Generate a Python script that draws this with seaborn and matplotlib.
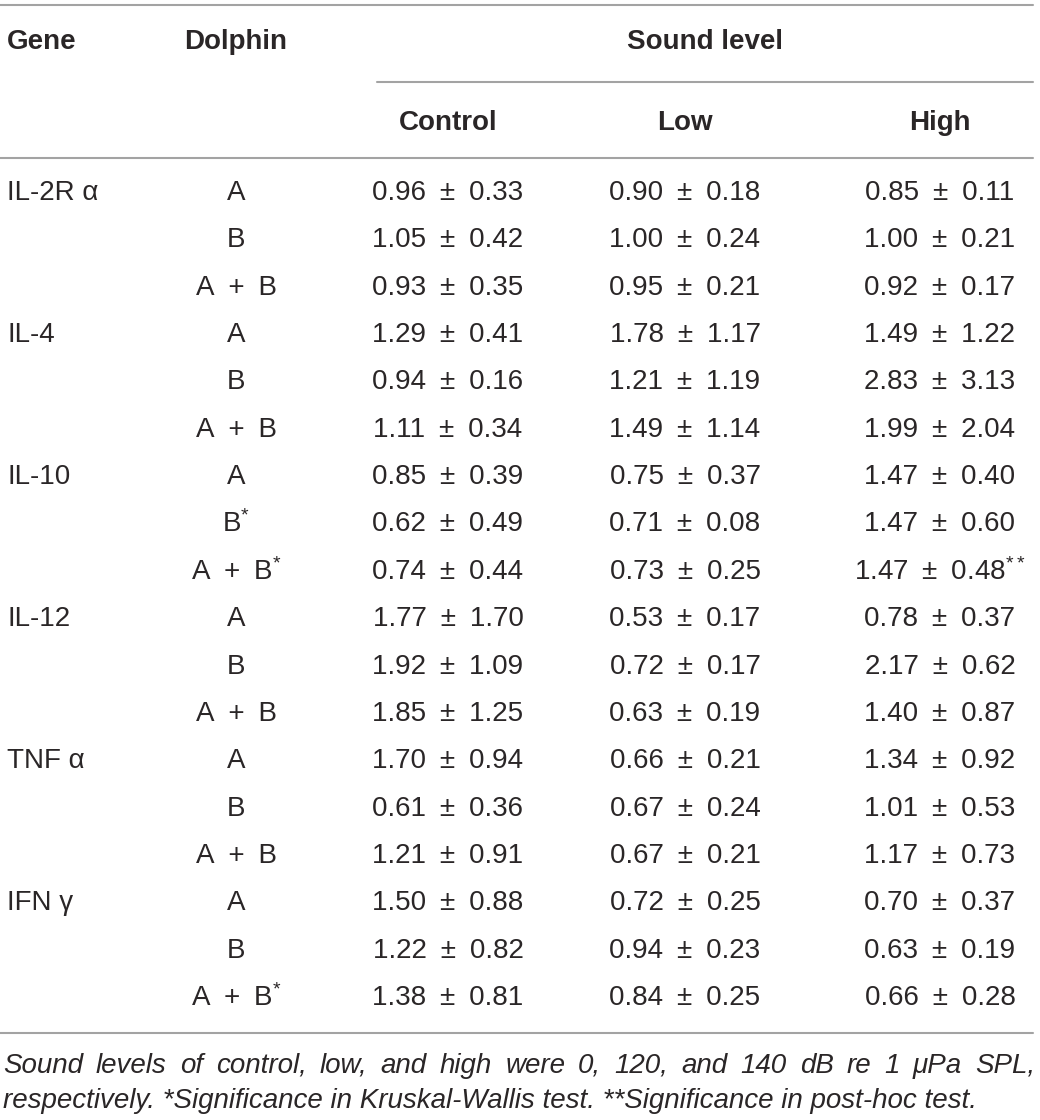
import pandas as pd
import seaborn as sns
import matplotlib.pyplot as plt

# table content
genes = ["IL-2R α", "IL-4", "IL-10", "IL-12", "TNF α", "IFN γ"]
dolphin = ["A", "B", "A + B"] * 6
dolphin_mark = ["", "", "",
                "", "", "",
                "", "*", "*",
                "", "", "",
                "", "", "",
                "", "", "*"]
control_mean = [0.96, 1.05, 0.93, 1.29, 0.94, 1.11, 0.85, 0.62, 0.74,
                1.77, 1.92, 1.85, 1.70, 0.61, 1.21, 1.50, 1.22, 1.38]
control_sd = [0.33, 0.42, 0.35, 0.41, 0.16, 0.34, 0.39, 0.49, 0.44,
              1.70, 1.09, 1.25, 0.94, 0.36, 0.91, 0.88, 0.82, 0.81]
low_mean = [0.90, 1.00, 0.95, 1.78, 1.21, 1.49, 0.75, 0.71, 0.73,
            0.53, 0.72, 0.63, 0.66, 0.67, 0.67, 0.72, 0.94, 0.84]
low_sd = [0.18, 0.24, 0.21, 1.17, 1.19, 1.14, 0.37, 0.08, 0.25,
          0.17, 0.17, 0.19, 0.21, 0.24, 0.21, 0.25, 0.23, 0.25]
high_mean = [0.85, 1.00, 0.92, 1.49, 2.83, 1.99, 1.47, 1.47, 1.47,
             0.78, 2.17, 1.40, 1.34, 1.01, 1.17, 0.70, 0.63, 0.66]
high_sd = [0.11, 0.21, 0.17, 1.22, 3.13, 2.04, 0.40, 0.60, 0.48,
           0.37, 0.62, 0.87, 0.92, 0.53, 0.73, 0.37, 0.19, 0.28]
high_mark = [""] * 8 + ["**"] + [""] * 9
levels = ["Control", "Low", "High"]
footnote = ["Sound levels of control, low, and high were 0, 120, and 140 dB re 1 μPa SPL,",
            "respectively. *Significance in Kruskal-Wallis test. **Significance in post-hoc test."]

df = pd.DataFrame({
    "gene": [g if i % 3 == 0 else "" for i, g in enumerate(sum([[g] * 3 for g in genes], []))],
    "dolphin": dolphin, "dmark": dolphin_mark,
    "c_m": control_mean, "c_s": control_sd,
    "l_m": low_mean, "l_s": low_sd,
    "h_m": high_mean, "h_s": high_sd, "hmark": high_mark,
})

sns.set_theme(style="white")
plt.rcParams["font.family"] = ["Liberation Sans", "DejaVu Sans"]
plt.rcParams["mathtext.fontset"] = "custom"
plt.rcParams["mathtext.rm"] = "Liberation Sans"
plt.rcParams["mathtext.it"] = "Liberation Sans:italic"
plt.rcParams["mathtext.default"] = "regular"

ink = "#2a2627"
rule = "#a3a3a3"
fs = 20
sp = "\u2002"  # wider gap around the ± and + signs

fig = plt.figure(figsize=(10.4, 11.2), dpi=100)
ax = fig.add_axes([0, 0, 1, 1])
ax.set_xlim(0, 1040)
ax.set_ylim(1120, 0)
ax.axis("off")

gene_x, dol_x = 7, 236
level_x = [448, 685, 940]
row0, row_h = 193, 47.35


def sup(mark):
    return "$^{" + mark + "}$" if mark else ""


# header
ax.text(gene_x, 42, "Gene", fontsize=fs, fontweight="bold", color=ink, va="center")
ax.text(dol_x, 42, "Dolphin", fontsize=fs, fontweight="bold", color=ink, va="center", ha="center")
ax.text(705, 42, "Sound level", fontsize=fs, fontweight="bold", color=ink, va="center", ha="center")
for x, lab in zip(level_x, levels):
    ax.text(x, 123, lab, fontsize=fs, fontweight="bold", color=ink, va="center", ha="center")

# rules
ax.plot([0, 1033], [5, 5], color=rule, lw=1.5)
ax.plot([377, 1033], [82, 82], color=rule, lw=1.5)
ax.plot([0, 1033], [158, 158], color=rule, lw=1.5)
ax.plot([0, 1033], [1033, 1033], color=rule, lw=1.5)

# body rows
for i, r in df.iterrows():
    y = row0 + i * row_h
    if r["gene"]:
        ax.text(gene_x, y, r["gene"], fontsize=fs, color=ink, va="center")
    ax.text(dol_x, y, r["dolphin"].replace(" ", sp) + sup(r["dmark"]), fontsize=fs,
            color=ink, va="center", ha="center")
    vals = [(r["c_m"], r["c_s"], ""), (r["l_m"], r["l_s"], ""), (r["h_m"], r["h_s"], r["hmark"])]
    for x, (m, s, mk) in zip(level_x, vals):
        ax.text(x, y, f"{m:.2f}{sp}±{sp}{s:.2f}" + sup(mk), fontsize=fs, color=ink,
                va="center", ha="center")

# footnote: first line justified to full width, last line left aligned
renderer = fig.canvas.get_renderer()
fn_kw = dict(fontsize=20, style="italic", color=ink, va="center")
words = footnote[0].split(" ")
arts = [ax.text(0, 1066, w, **fn_kw) for w in words]
widths = [a.get_window_extent(renderer).width for a in arts]
gap = (1035 - 3 - sum(widths)) / (len(words) - 1)
x = 3
for a, w in zip(arts, widths):
    a.set_x(x)
    x += w + gap
ax.text(3, 1101, footnote[1], **fn_kw)

fig.savefig("out.png", dpi=100, facecolor="white")
